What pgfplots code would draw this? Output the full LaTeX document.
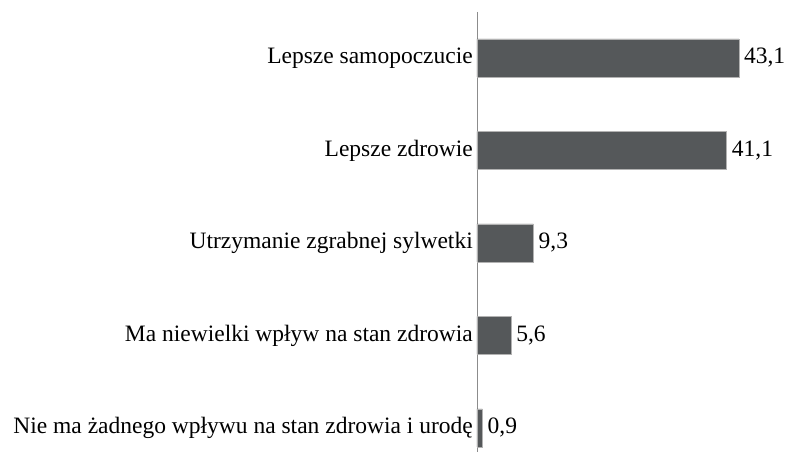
\documentclass[border=0pt]{standalone}
\usepackage{fontspec}
\setmainfont{Liberation Serif}
\usepackage{pgfplots}
\pgfplotsset{compat=1.18}
\definecolor{barfill}{HTML}{55585A}
\definecolor{axisgray}{HTML}{8C8C8C}

\begin{document}
\begin{tikzpicture}
  \begin{axis}[
    scale only axis,
    width=308pt, height=440pt,
    xbar, bar width=38pt, bar shift=0pt,
    xmin=0, xmax=50.7,
    ymin=-0.497, ymax=4.26,
    y dir=reverse,
    axis x line=none,
    axis y line=left,
    y axis line style={-, axisgray, line width=0.8pt},
    ytick={0,1,2,3,4},
    yticklabels={Lepsze samopoczucie, Lepsze zdrowie, Utrzymanie zgrabnej sylwetki,
      Ma niewielki wpływ na stan zdrowia, Nie ma żadnego wpływu na stan zdrowia i urodę},
    major tick length=0pt,
    yticklabel style={font=\fontsize{23.5}{28}\selectfont, inner sep=0pt, xshift=-4pt},
    nodes near coords,
    every node near coord/.append style={font=\fontsize{23.5}{28}\selectfont, inner sep=0pt, xshift=5pt},
    /pgf/number format/.cd, use comma, fixed, fixed zerofill, precision=1, assume math mode=true,
  ]
    \addplot[fill=barfill, draw=gray!60, line width=0.5pt] coordinates {
      (43.1,0) (41.1,1) (9.3,2) (5.6,3) (0.9,4)
    };
  \end{axis}
  \pgfresetboundingbox
  \path ([xshift=-477pt]current axis.south west) rectangle ([yshift=12pt]current axis.north east);
\end{tikzpicture}
\end{document}
